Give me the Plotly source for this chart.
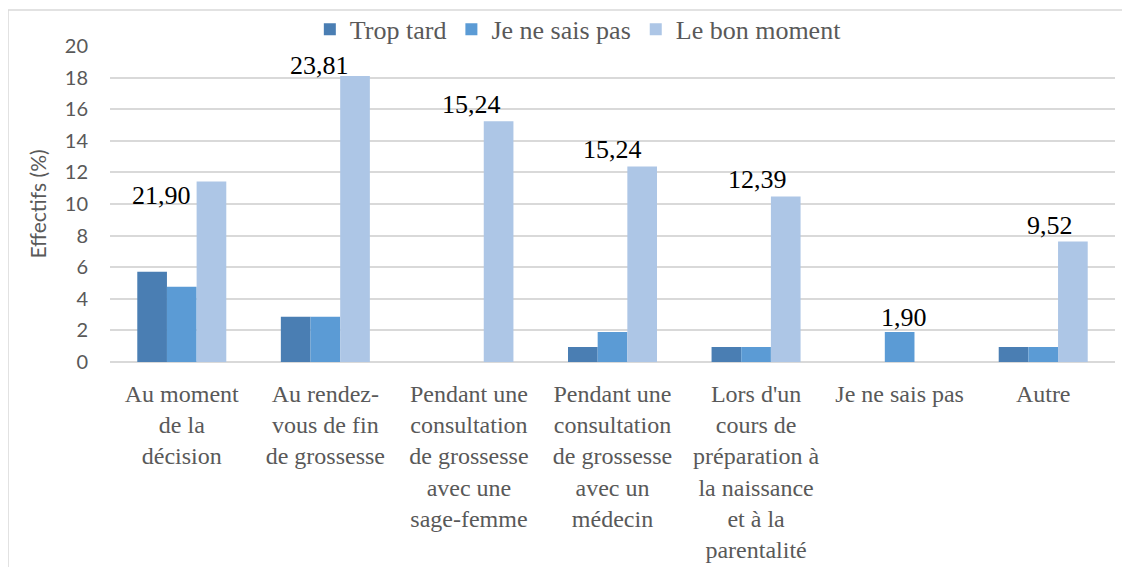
import plotly.graph_objects as go

categories = [
    "Au moment<br>de la<br>décision",
    "Au rendez-<br>vous de fin<br>de grossesse",
    "Pendant une<br>consultation<br>de grossesse<br>avec une<br>sage-femme",
    "Pendant une<br>consultation<br>de grossesse<br>avec un<br>médecin",
    "Lors d'un<br>cours de<br>préparation à<br>la naissance<br>et à la<br>parentalité",
    "Je ne sais pas",
    "Autre",
]
trop_tard = [5.71, 2.86, 0.00, 0.95, 0.95, 0.00, 0.95]
je_ne_sais_pas = [4.76, 2.86, 0.00, 1.90, 0.95, 1.90, 0.95]
le_bon_moment = [11.43, 18.10, 15.24, 12.38, 10.48, 0.00, 7.62]
totals = ["21,90", "23,81", "15,24", "15,24", "12,39", "1,90", "9,52"]
y_ticks = [0, 2, 4, 6, 8, 10, 12, 14, 16, 18, 20]

series_names = ["Trop tard", "Je ne sais pas", "Le bon moment"]
colors = ["#4a7eb3", "#5b9bd5", "#adc6e6"]

# label placement style: (xanchor, yanchor, xshift px, yshift px)
label_style = [
    ("right", "top", 11, 2),
    ("center", "bottom", -6, -6),
    ("center", "bottom", 3, 0),
    ("center", "bottom", 0, 0),
    ("center", "bottom", 1, 0),
    ("center", "bottom", 4, -2),
    ("center", "bottom", 7, 0),
]

SERIF = "Liberation Serif"
SANS = "Lato"
GRAY = "#595959"
GRID = "#d9d9d9"

fig = go.Figure()
for name, vals, col in zip(series_names, [trop_tard, je_ne_sais_pas, le_bon_moment], colors):
    fig.add_trace(go.Bar(x=categories, y=vals, name=name,
                         marker=dict(color=col, line=dict(width=0))))

for i, (cat, txt) in enumerate(zip(categories, totals)):
    xa, ya, xs, ys = label_style[i]
    top = max(trop_tard[i], je_ne_sais_pas[i], le_bon_moment[i])
    fig.add_annotation(x=cat, y=top, text=txt, showarrow=False,
                       xanchor=xa, yanchor=ya, xshift=xs, yshift=ys,
                       font=dict(family=SERIF, size=26, color="#000000"))

# outer chart border (right and bottom sides cropped in the reference)
fig.add_shape(type="rect", xref="paper", yref="paper",
              x0=-0.1015, x1=1.05, y0=-0.75, y1=1.114,
              line=dict(color=GRID, width=1.5), fillcolor="rgba(0,0,0,0)", layer="below")

fig.update_layout(
    width=1122, height=559,
    margin=dict(l=102, r=15, t=38, b=205, autoexpand=False),
    paper_bgcolor="white", plot_bgcolor="white",
    barmode="group", bargap=0.38, bargroupgap=0,
    legend=dict(orientation="h", x=0.466, xanchor="center", y=1.053, yanchor="middle",
                font=dict(family=SERIF, size=26, color=GRAY),
                bgcolor="rgba(0,0,0,0)", itemwidth=30, tracegroupgap=0),
    xaxis=dict(showgrid=False, showline=False, ticks="", ticklabelstandoff=15,
               tickfont=dict(family=SERIF, size=24, color=GRAY), tickangle=0,
               automargin=False),
    yaxis=dict(range=[0, 20], tickvals=y_ticks, showgrid=True, gridcolor=GRID, gridwidth=1.5,
               zeroline=True, zerolinecolor=GRID, zerolinewidth=1.5, showline=False,
               tickfont=dict(family=SANS, size=20, color=GRAY),
               ticklabelstandoff=21,
               title=dict(text="Effectifs (%)", standoff=12,
                          font=dict(family=SANS, size=21, color=GRAY)),
               automargin=False),
    showlegend=True,
)

fig.write_html("out.html")
